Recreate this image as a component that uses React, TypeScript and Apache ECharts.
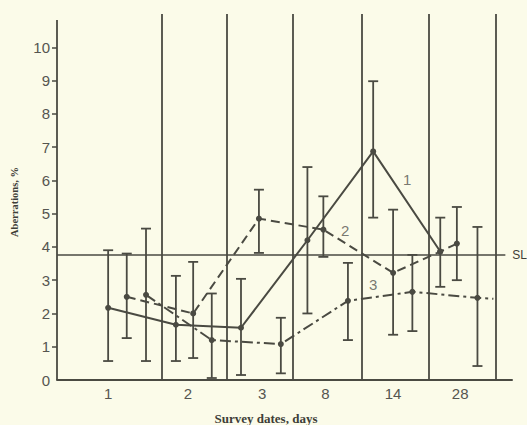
import React, { useEffect, useRef } from "react";
import * as echarts from "echarts";

// Positions on the x-axis are in "survey-group" units (each group ≈ 1 unit wide)
const groupLabels = ["1", "2", "3", "8", "14", "28"];
const groupLabelPos = [0.77, 1.97, 3.09, 4.04, 5.06, 6.07];
const groupDividers = [1.57, 2.55, 3.55, 4.59, 5.59, 6.61];

const s1X = [0.77, 1.79, 2.77, 3.77, 4.76, 5.77];
const s1Y = [2.17, 1.66, 1.57, 4.2, 6.87, 3.86];
const s1Lo = [0.57, 0.57, 0.15, 2.0, 4.88, 2.8];
const s1Hi = [3.9, 3.13, 3.04, 6.4, 8.98, 4.88];

const s2X = [1.05, 2.05, 3.04, 4.01, 5.06, 5.77, 6.02];
const s2Y = [2.5, 2.0, 4.85, 4.52, 3.22, 3.86, 4.1];
const s2Lo = [1.26, 0.66, 3.82, 3.7, 1.36, null, 3.0];
const s2Hi = [3.8, 3.55, 5.72, 5.52, 5.12, null, 5.2];

const s3X = [1.34, 2.33, 3.37, 4.38, 5.35, 6.33, 6.57];
const s3Y = [2.56, 1.2, 1.08, 2.38, 2.65, 2.47, 2.44];
const s3Lo = [0.57, 0.06, 0.2, 1.2, 1.47, 0.42, null];
const s3Hi = [4.55, 2.6, 1.87, 3.52, 3.76, 4.6, null];

const slValue = 3.75;
const curveTags = [
  { name: "1", x: 5.27, y: 6.04 },
  { name: "2", x: 4.34, y: 4.5 },
  { name: "3", x: 4.76, y: 2.86 },
];

const INK = "#4a4a42";
const BG = "#fbfbe9";

function errData(xs: number[], lo: (number | null)[], hi: (number | null)[]) {
  const out: number[][] = [];
  xs.forEach((x, i) => {
    if (lo[i] != null && hi[i] != null) out.push([x, lo[i] as number, hi[i] as number]);
  });
  return out;
}

const errRender = (params: any, api: any) => {
  const x = api.value(0);
  const p1 = api.coord([x, api.value(1)]);
  const p2 = api.coord([x, api.value(2)]);
  const w = 5;
  const style = { stroke: INK, lineWidth: 1.8 };
  return {
    type: "group",
    children: [
      { type: "line", shape: { x1: p1[0], y1: p1[1], x2: p2[0], y2: p2[1] }, style },
      { type: "line", shape: { x1: p1[0] - w, y1: p1[1], x2: p1[0] + w, y2: p1[1] }, style },
      { type: "line", shape: { x1: p2[0] - w, y1: p2[1], x2: p2[0] + w, y2: p2[1] }, style },
    ],
  };
};

export default function App() {
  const ref = useRef<HTMLDivElement>(null);
  useEffect(() => {
    if (!ref.current) return;
    const chart = echarts.init(ref.current, null, { renderer: "svg" });
    const lineSeries = (xs: number[], ys: number[], type: any, noEndSymbol = false) => ({
      type: "line",
      data: xs.map((x, i) =>
        noEndSymbol && i === xs.length - 1
          ? { value: [x, ys[i]], symbol: "none" }
          : [x, ys[i]]
      ),
      symbol: "circle",
      symbolSize: 6,
      itemStyle: { color: INK },
      lineStyle: { color: INK, width: 2, type },
      z: 3,
    });
    chart.setOption({
      animation: false,
      backgroundColor: BG,
      grid: { left: 57, right: 15, top: 14, bottom: 45 },
      xAxis: {
        type: "value",
        min: 0,
        max: 6.85,
        splitLine: { show: false },
        axisLine: { show: true, lineStyle: { color: INK, width: 2 } },
        axisTick: { show: false },
        axisLabel: {
          customValues: groupLabelPos,
          formatter: (v: number) => {
            const i = groupLabelPos.findIndex((p) => Math.abs(p - v) < 1e-6);
            return i >= 0 ? groupLabels[i] : "";
          },
          color: "#555550",
          fontSize: 15,
          fontFamily: "Liberation Sans, Arial, sans-serif",
          margin: 6,
        },
      },
      yAxis: {
        type: "value",
        min: 0,
        max: 11,
        interval: 1,
        splitLine: { show: false },
        axisLine: { show: false },
        axisTick: {
          show: true,
          customValues: [1, 2, 3, 4, 5, 6, 7, 8, 9, 10],
          length: 5,
          lineStyle: { color: INK, width: 1.5 },
        },
        axisLabel: {
          customValues: [0, 1, 2, 3, 4, 5, 6, 7, 8, 9, 10],
          color: "#555550",
          fontSize: 15,
          fontFamily: "Liberation Sans, Arial, sans-serif",
          margin: 7,
        },
      },
      graphic: [
        {
          type: "text",
          left: 9,
          top: 167,
          rotation: Math.PI / 2,
          style: {
            text: "Aberrations, %",
            fill: "#3e3e38",
            font: "bold 10.5px 'Liberation Serif', serif",
          },
        },
        {
          type: "text",
          x: 266,
          y: 418,
          style: {
            text: "Survey dates, days",
            fill: "#3e3e38",
            font: "bold 13px 'Liberation Serif', serif",
            align: "center",
            verticalAlign: "middle",
          },
        },
      ],
      series: [
        {
          type: "line",
          data: [],
          silent: true,
          markLine: {
            silent: true,
            symbol: "none",
            label: { show: false },
            lineStyle: { color: INK, width: 1.8, type: "solid" },
            data: [
              ...groupDividers.map((x) => ({ xAxis: x })),
              [{ coord: [0, 0] }, { coord: [0, 10.82] }],
            ],
          },
        },
        {
          type: "line",
          data: [],
          silent: true,
          markLine: {
            silent: true,
            symbol: "none",
            lineStyle: { color: INK, width: 1.6, type: "solid" },
            label: {
              show: true,
              position: "end",
              formatter: "SL",
              color: "#3e3e38",
              font: "bold 11px 'Liberation Serif', serif",
              distance: 7,
            },
            data: [[{ coord: [0, slValue] }, { coord: [6.75, slValue] }]],
          },
        },
        lineSeries(s1X, s1Y, "solid"),
        lineSeries(s2X, s2Y, [9, 5]),
        lineSeries(s3X, s3Y, [11, 4, 3, 4], true),
        { type: "custom", renderItem: errRender, data: errData(s1X, s1Lo, s1Hi), z: 2 },
        { type: "custom", renderItem: errRender, data: errData(s2X, s2Lo, s2Hi), z: 2 },
        { type: "custom", renderItem: errRender, data: errData(s3X, s3Lo, s3Hi), z: 2 },
        {
          type: "scatter",
          symbolSize: 0,
          data: curveTags.map((t) => ({ name: t.name, value: [t.x, t.y] })),
          label: {
            show: true,
            position: "inside",
            formatter: "{b}",
            color: "#555550",
            fontSize: 15,
            fontFamily: "Liberation Sans, Arial, sans-serif",
          },
        },
      ],
    });
    return () => chart.dispose();
  }, []);
  return (
    <div
      ref={ref}
      style={{ position: "fixed", left: 0, top: 0, width: 527, height: 425 }}
    />
  );
}
